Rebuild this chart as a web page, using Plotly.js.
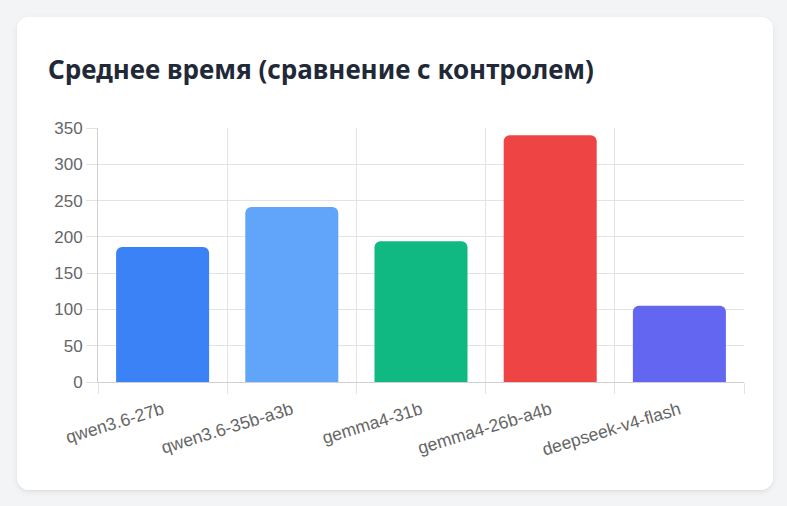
<!DOCTYPE html>
<html>
<head>
<meta charset="utf-8">
<script src="https://cdn.plot.ly/plotly-3.0.1.min.js"></script>
<style>
  html, body { margin: 0; padding: 0; background: #f3f4f6; }
  body { width: 787px; height: 506px; position: relative; overflow: hidden; }
  #card {
    position: absolute; left: 17px; top: 17px; width: 756px; height: 473px;
    background: #ffffff; border-radius: 12px; overflow: hidden;
    box-shadow: 0 2px 6px rgba(0,0,0,0.07), 0 1px 2px rgba(0,0,0,0.04);
  }
  #chart { width: 756px; height: 473px; }
</style>
</head>
<body>
<div id="card"><div id="chart"></div></div>
<script>
const categories = ["qwen3.6-27b", "qwen3.6-35b-a3b", "gemma4-31b", "gemma4-26b-a4b", "deepseek-v4-flash"];
const values = [186, 241, 194, 340, 105];
const barColors = ["#3b82f6", "#60a5fa", "#10b981", "#ef4444", "#6366f1"];
const yTicks = [0, 50, 100, 150, 200, 250, 300, 350];
const chartTitle = "Среднее время (сравнение с контролем)";

const trace = {
  type: "bar",
  x: categories,
  y: values,
  marker: { color: barColors, cornerradius: 6, line: { width: 0 } },
  hoverinfo: "skip"
};

const layout = {
  width: 756, height: 473,
  paper_bgcolor: "#ffffff", plot_bgcolor: "#ffffff",
  margin: { l: 81, r: 29, t: 111, b: 108 },
  bargap: 0.28,
  showlegend: false,
  title: {
    text: "<b>" + chartTitle + "</b>",
    font: { family: "Noto Sans, Open Sans, sans-serif", size: 26, color: "#1f2937" },
    xref: "container", yref: "container",
    x: 31 / 756, xanchor: "left",
    y: 1 - 53 / 473, yanchor: "middle"
  },
  font: { family: "Liberation Sans, Arial, sans-serif", size: 17, color: "#666666" },
  xaxis: {
    type: "category",
    tickson: "boundaries",
    showgrid: true, gridcolor: "#e3e3e3", gridwidth: 1,
    ticks: "outside", ticklen: 11, tickcolor: "#e3e3e3",
    showline: true, linecolor: "#d0d0d0", linewidth: 1,
    tickangle: -17,
    ticklabelstandoff: 10,
    tickfont: { family: "Liberation Sans, Arial, sans-serif", size: 17.6, color: "#666666" },
    fixedrange: true
  },
  yaxis: {
    range: [0, 350],
    tickvals: yTicks,
    showgrid: true, gridcolor: "#e3e3e3", gridwidth: 1,
    zeroline: false,
    ticks: "outside", ticklen: 11, tickcolor: "#e3e3e3",
    showline: true, linecolor: "#d0d0d0", linewidth: 1,
    tickfont: { family: "Liberation Sans, Arial, sans-serif", size: 17, color: "#666666" },
    fixedrange: true
  }
};

Plotly.newPlot("chart", [trace], layout, { staticPlot: true, displayModeBar: false });
</script>
</body>
</html>
